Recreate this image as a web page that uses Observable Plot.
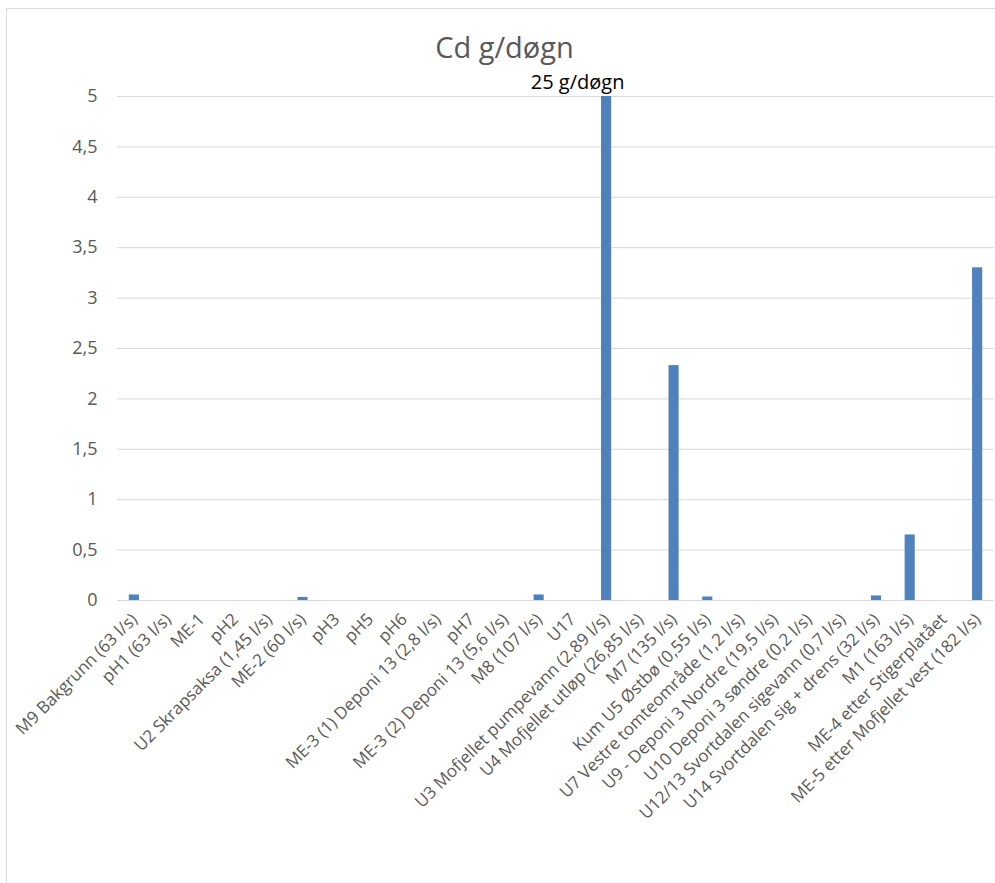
<!DOCTYPE html>
<html>
<head>
<meta charset="utf-8">
<script src="https://cdn.jsdelivr.net/npm/d3@7"></script>
<script src="https://cdn.jsdelivr.net/npm/@observablehq/plot@0.6"></script>
<style>
  html, body { margin: 0; padding: 0; background: #fff; overflow: hidden; }
  #frame { position: absolute; left: 6px; top: 8px; width: 1000px; height: 900px;
           border: 1px solid #d9d9d9; box-sizing: border-box; }
  #title { height: 66px; box-sizing: border-box; padding-top: 20px; text-align: center;
           font-family: "Open Sans", sans-serif; font-size: 29px; color: #595959; width: 995px; line-height: 36px; }
  #chart svg { display: block; }
</style>
</head>
<body>
<div id="frame">
  <div id="title">Cd g/døgn</div>
  <div id="chart"></div>
</div>
<script>
const categories = [
  "M9 Bakgrunn (63 l/s)", "pH1 (63 l/s)", "ME-1", "pH2", "U2 Skrapsaksa (1,45 l/s)",
  "ME-2 (60 l/s)", "pH3", "pH5", "pH6", "ME-3 (1) Deponi 13 (2,8 l/s)", "pH7",
  "ME-3 (2) Deponi 13 (5,6 l/s)", "M8 (107 l/s)", "U17", "U3 Mofjellet pumpevann (2,89 l/s)",
  "U4 Mofjellet utløp (26,85 l/s)", "M7 (135 l/s)", "Kum U5 Østbø (0,55 l/s)",
  "U7 Vestre tomteområde (1,2 l/s)", "U9 - Deponi 3 Nordre (19,5 l/s)",
  "U10 Deponi 3 søndre (0,2 l/s)", "U12/13 Svortdalen sigevann (0,7 l/s)",
  "U14 Svortdalen sig + drens (32 l/s)", "M1 (163 l/s)", "ME-4 etter Stigerplatået",
  "ME-5 etter Mofjellet vest (182 l/s)"
];
const values = [
  0.055, 0, 0, 0, 0,
  0.03, 0, 0, 0, 0, 0,
  0, 0.055, 0, 25,
  0, 2.33, 0.035,
  0, 0,
  0, 0,
  0.045, 0.65, 0,
  3.3
];
const yTicks = [0, 0.5, 1, 1.5, 2, 2.5, 3, 3.5, 4, 4.5, 5];
const annotationCategory = ["U3 Mofjellet pumpevann (2,89 l/s)"];
const annotationText = ["25 g/døgn"];
const annotationY = [5];

const data = categories.map((c, i) => ({category: c, value: values[i]}));
const notes = annotationCategory.map((c, i) => ({category: c, text: annotationText[i], y: annotationY[i]}));

const chart = Plot.plot({
  width: 988,
  height: 808,
  marginLeft: 110,
  marginRight: 1,
  marginTop: 21,
  marginBottom: 283,
  style: {fontFamily: "Open Sans, sans-serif", fontSize: "17px", color: "#595959", background: "transparent", overflow: "visible"},
  x: {domain: categories, paddingInner: 0.7, paddingOuter: 0.35, round: false, label: null},
  y: {domain: [0, 5], clamp: true, label: null},
  marks: [
    Plot.gridY(yTicks, {stroke: "#d9d9d9", strokeOpacity: 1, strokeWidth: 1}),
    Plot.barY(data, {x: "category", y: "value", fill: "#4f81bd"}),
    Plot.axisY(yTicks, {tickSize: 0, tickPadding: 20, tickFormat: d => String(d).replace(".", ","), label: null, fontSize: 18}),
    Plot.axisX({tickSize: 0, tickPadding: 16, tickRotate: -45, label: null, fontSize: 17}),
    Plot.text(notes, {x: "category", y: "y", text: "text", dx: -29, dy: -14, fill: "#000", fontSize: 20})
  ]
});
document.getElementById("chart").appendChild(chart);
</script>
</body>
</html>
